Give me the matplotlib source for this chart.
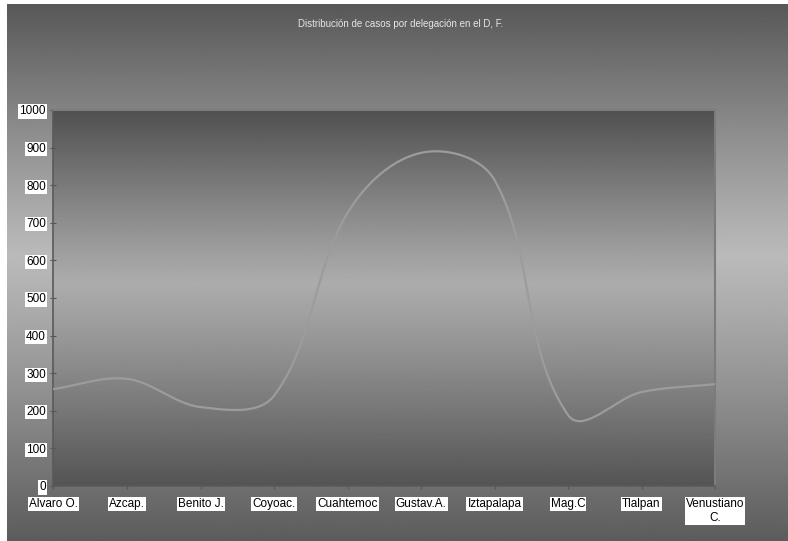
import numpy as np
import matplotlib
matplotlib.use("Agg")
import matplotlib.pyplot as plt

# cases per delegation (Mexico City)
delegaciones = ["Alvaro O.", "Azcap.", "Benito J.", "Coyoac.", "Cuahtemoc",
                "Gustav.A.", "Iztapalapa", "Mag.C", "Tlalpan", "Venustiano\nC."]
casos = [258, 285, 210, 240, 726, 886, 814, 189, 250, 271]
y_ticks = [0, 100, 200, 300, 400, 500, 600, 700, 800, 900, 1000]

plt.rcParams["font.family"] = ["Liberation Sans", "DejaVu Sans"]


def smooth(xs, ys, sx, sy, k=1 / 3, steps=40):
    # smoothed line: cubic Bezier segments, tangent along the neighbours,
    # handle length proportional to each segment's on-screen length
    P = np.column_stack([xs * sx, ys * sy])
    n = len(P)
    out = []
    t = np.linspace(0, 1, steps)[:, None]
    for i in range(n - 1):
        a, b = P[i], P[i + 1]
        seg = np.linalg.norm(b - a)
        da = P[min(i + 1, n - 1)] - P[max(i - 1, 0)]
        db = P[min(i + 2, n - 1)] - P[i]
        c1 = a + da / np.linalg.norm(da) * seg * k
        c2 = b - db / np.linalg.norm(db) * seg * k
        out.append((1 - t) ** 3 * a + 3 * (1 - t) ** 2 * t * c1
                   + 3 * (1 - t) * t ** 2 * c2 + t ** 3 * b)
    out = np.vstack(out)
    return out[:, 0] / sx, out[:, 1] / sy


def band(top, light, bottom, peak, n=400):
    # vertical gradient, lightest at `peak` (0 = top, 1 = bottom)
    s = np.linspace(0, 1, n)
    g = np.where(s < peak,
                 light + (top - light) * ((peak - s) / peak) ** 1.1,
                 light + (bottom - light) * ((s - peak) / (1 - peak)) ** 1.1)
    return np.repeat(g[:, None], 2, axis=1)


W, H = 788, 541
fig = plt.figure(figsize=(W / 100, H / 100), dpi=100)
fig.patch.set_facecolor("white")

# outer chart area gradient
bg = fig.add_axes([7 / W, 0, 1 - 7 / W, 1 - 4 / H])
bg.imshow(band(88, 186, 92, 0.47) / 255, cmap="gray", vmin=0, vmax=1,
          aspect="auto", extent=[0, 1, 0, 1])
bg.axis("off")

left, right, top, bottom = 53.5, 715, 110, 486
ax = fig.add_axes([left / W, (H - bottom) / H, (right - left) / W, (bottom - top) / H])
x = np.arange(len(delegaciones))
ax.imshow(band(80, 172, 84, 0.46) / 255, cmap="gray", vmin=0, vmax=1,
          aspect="auto", extent=[0, len(x) - 1, 0, 1000], zorder=0)

px_per_cat = (right - left) / (len(x) - 1)
px_per_case = (bottom - top) / 1000
lx, ly = smooth(x.astype(float), np.array(casos, dtype=float), px_per_cat, px_per_case)
ax.plot(lx, ly, color="#9c9c9c", lw=1.6, solid_capstyle="round", zorder=3)

ax.set_xlim(0, len(x) - 1)
ax.set_ylim(0, 1000)
ax.set_xticks(x)
ax.set_xticklabels(delegaciones, multialignment="center")
ax.set_yticks(y_ticks)
ax.set_yticklabels([str(v) for v in y_ticks])
ax.tick_params(direction="inout", length=5, width=0.8, color="#555555",
               labelsize=8.5, labelcolor="black")
ax.tick_params(axis="x", pad=6)
ax.tick_params(axis="y", pad=3)
for lbl in ax.get_xticklabels() + ax.get_yticklabels():
    lbl.set_bbox(dict(facecolor="white", edgecolor="none", pad=0.8))

for side in ("left", "bottom"):
    ax.spines[side].set_color("#5a5a5a")
    ax.spines[side].set_linewidth(1.2)
for side in ("top", "right"):
    ax.spines[side].set_color("#7c7c7c")
    ax.spines[side].set_linewidth(1.5)

fig.text(401 / W, 1 - 24 / H, "Distribución de casos por delegación en el D, F.",
         ha="center", va="center", fontsize=7, color="#e6e6e6")

fig.savefig("out.png", dpi=100)
